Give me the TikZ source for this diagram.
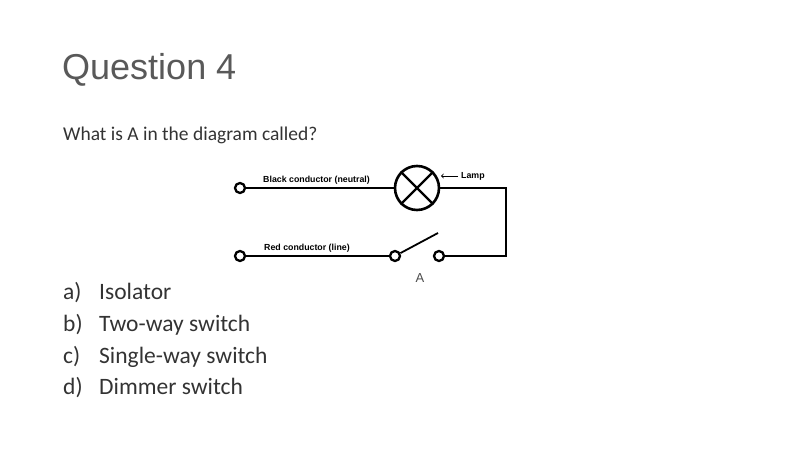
\documentclass[tikz,border=0pt]{standalone}
\usepackage{fontspec}
\setmainfont{Carlito}
\newfontfamily\arial{Liberation Sans}
\begin{document}
\begin{tikzpicture}[x=1pt,y=-1pt,
  wire/.style={line width=2.6pt},
  term/.style={circle,draw,line width=2.3pt,fill=white,minimum size=10pt,inner sep=0pt},
  small/.style={font=\arial\fontsize{8.8}{9}\selectfont\bfseries,inner sep=0pt},
  txt/.style={font=\fontsize{19.5}{21}\selectfont,text=black!80,anchor=base west,inner sep=0pt},
  item/.style={font=\fontsize{23.5}{25}\selectfont,text=black!80,anchor=base west,inner sep=0pt}]
\useasboundingbox (0,0) rectangle (806,454);
\node[anchor=west,inner sep=0pt,font=\arial\fontsize{36}{40}\selectfont,text=black!65] (title) at (62,70) {Question 4};
\node[txt] (q) at (63,141) {What is A in the diagram called?};
\node[item] (a) at (63,300) {a)};
\node[item] (b) at (63,331) {b)};
\node[item] (c) at (63,363) {c)};
\node[item] (d) at (63,394) {d)};
\node[item] (ai) at (99,300) {Isolator};
\node[item] (bi) at (99,331) {Two-way switch};
\node[item] (ci) at (99,363) {Single-way switch};
\node[item] (di) at (99,394) {Dimmer switch};
% circuit
\node[circle,draw,line width=2.6pt,minimum size=44pt,inner sep=0pt] (lamp) at (417,188) {};
\draw[line width=2.3pt] (lamp.north west) -- (lamp.south east) (lamp.north east) -- (lamp.south west);
\node[term] (t1) at (240,188) {};
\node[term] (t2) at (240,256) {};
\node[term] (s1) at (395,256) {};
\node[term] (s2) at (439,256) {};
\coordinate (arm) at (438,233);
\coordinate (c1) at (506,188);
\coordinate (c2) at (506,256);
\draw[wire] (t1) -- (lamp);
\draw[wire] (lamp) -- (c1) -- (c2) -- (s2);
\draw[wire] (t2) -- (s1);
\draw[line width=1.8pt] (s1) -- (arm);
\node[small,anchor=west] (bl) at (263,180) {Black conductor (neutral)};
\node[small,anchor=west] (rl) at (264,248) {Red conductor (line)};
\node[small,anchor=west] (ll) at (461,176) {Lamp};
\draw[->,line width=0.9pt] (ll.west) ++(-3,0) -- (441,176);
\node[font=\arial\fontsize{13}{14}\selectfont,text=black!70] (A) at (420,278) {A};
\end{tikzpicture}
\end{document}
